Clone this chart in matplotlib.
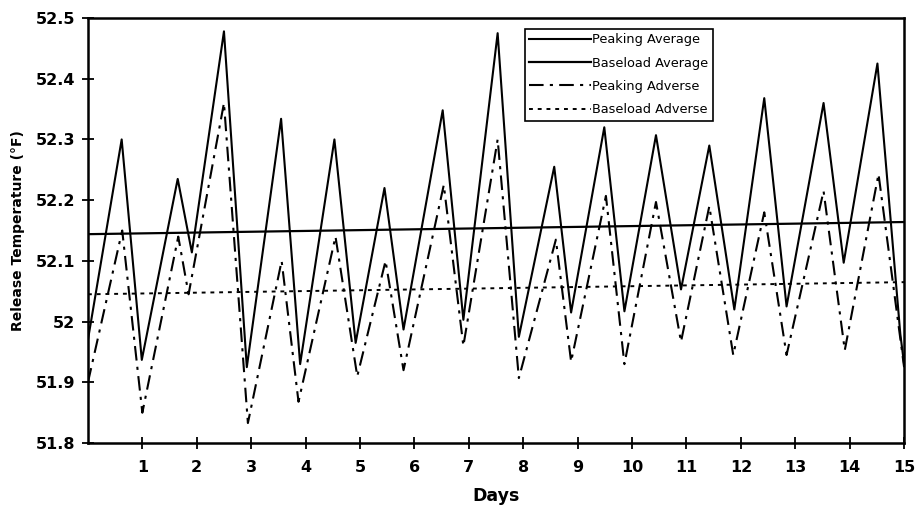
import matplotlib
matplotlib.use('Agg')
from matplotlib import pyplot as plt
import numpy as np

plt.rcParams['font.family'] = ['DejaVu Sans']
plt.rcParams['font.weight'] = 'bold'

# Peaking Average: peaks and troughs
pk_avg_days = [0.0, 0.62, 0.99, 1.65, 1.91, 2.50, 2.92, 3.55, 3.90, 4.53, 4.92,
               5.45, 5.80, 6.52, 6.90, 7.53, 7.92, 8.57, 8.88, 9.49, 9.86,
               10.44, 10.90, 11.42, 11.88, 12.43, 12.84, 13.52, 13.89, 14.51,
               14.93, 15.0]
pk_avg_temp = [51.97, 52.30, 51.937, 52.235, 52.114, 52.478, 51.925, 52.334, 51.93,
               52.30, 51.965, 52.22, 51.987, 52.348, 52.003, 52.475, 51.975,
               52.255, 52.015, 52.32, 52.017, 52.307, 52.053, 52.29, 52.02,
               52.368, 52.025, 52.36, 52.097, 52.425, 51.98, 51.93]

# Peaking Adverse
pk_adv_days = [0.0, 0.63, 1.0, 1.66, 1.85, 2.50, 2.94, 3.56, 3.87, 4.55, 4.95,
               5.47, 5.80, 6.54, 6.90, 7.53, 7.92, 8.60, 8.88, 9.52, 9.86,
               10.44, 10.90, 11.42, 11.86, 12.43, 12.84, 13.52, 13.91, 14.53,
               15.0]
pk_adv_temp = [51.90, 52.15, 51.85, 52.14, 52.045, 52.36, 51.833, 52.10, 51.868,
               52.14, 51.91, 52.10, 51.92, 52.225, 51.96, 52.30, 51.907,
               52.135, 51.934, 52.207, 51.93, 52.197, 51.967, 52.19, 51.945,
               52.18, 51.945, 52.215, 51.953, 52.243, 51.925]

# Baseload lines (nearly flat)
base_days = [0.0, 15.0]
base_avg_temp = [52.144, 52.164]
base_adv_temp = [52.045, 52.065]

y_ticks = [51.8, 51.9, 52.0, 52.1, 52.2, 52.3, 52.4, 52.5]
y_labels = ['51.8', '51.9', '52', '52.1', '52.2', '52.3', '52.4', '52.5']
x_ticks = list(range(1, 16))

fig = plt.figure(figsize=(9.16, 5.14), dpi=100)
ax = fig.add_axes([0.096, 0.138, 0.891, 0.827])

ax.plot(pk_avg_days, pk_avg_temp, color='black', lw=1.5, label='Peaking Average')
ax.plot(base_days, base_avg_temp, color='black', lw=1.6, label='Baseload Average')
ax.plot(pk_adv_days, pk_adv_temp, color='black', lw=1.5, ls=(0, (7, 3, 1.5, 3)),
        label='Peaking Adverse')
ax.plot(base_days, base_adv_temp, color='black', lw=1.4, ls=(0, (2, 2.5)),
        label='Baseload Adverse')

ax.set_xlim(0, 15)
ax.set_ylim(51.8, 52.5)
ax.set_yticks(y_ticks)
ax.set_yticklabels(y_labels)
ax.set_xticks(x_ticks)
ax.set_xticklabels([str(d) for d in x_ticks])
ax.tick_params(direction='inout', length=8, width=1.3, labelsize=11.5)
ax.tick_params(axis='x', pad=8)
ax.tick_params(axis='y', pad=5)
for s in ax.spines.values():
    s.set_linewidth(1.8)

ax.set_xlabel('Days', fontsize=12.5, fontweight='bold', labelpad=9)
ax.set_ylabel('Release Temperature (°F)', fontsize=10, fontweight='bold', labelpad=8)

leg = ax.legend(loc='upper left', bbox_to_anchor=(0.527, 0.99), fontsize=9.3,
                handlelength=4.8, handletextpad=0.1, labelspacing=0.8,
                borderpad=0.35, fancybox=False, framealpha=1)
leg.get_frame().set_edgecolor('black')
leg.get_frame().set_linewidth(1.2)
for t in leg.get_texts():
    t.set_fontweight('normal')

fig.savefig('out.png', dpi=100)
